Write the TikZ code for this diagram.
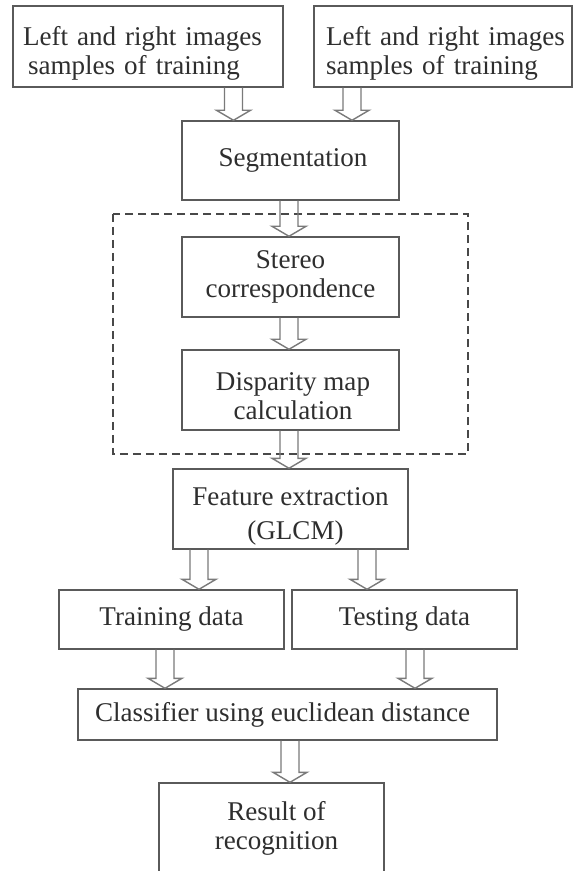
\documentclass[tikz,border=0pt]{standalone}
\usepackage{fontspec}
\setmainfont{Liberation Serif}
\usetikzlibrary{positioning, calc}
\definecolor{linegray}{HTML}{5A5A5A}
\definecolor{arrowgray}{HTML}{7A7A7A}
\definecolor{textgray}{HTML}{2E2E2E}

% hollow block arrow: x position, upper node, lower node
\newcommand{\blockarrow}[3]{%
  \draw[barrow] let \p1=(#1,0 |- #2.south), \p2=(#1,0 |- #3.north) in
    (\x1-0.18cm,\y1) -- (\x1-0.18cm,\y2+0.2cm) -- (\x1-0.34cm,\y2+0.2cm) -- (\x1,\y2)
    -- (\x1+0.34cm,\y2+0.2cm) -- (\x1+0.18cm,\y2+0.2cm) -- (\x1+0.18cm,\y1);
}

\begin{document}
\begin{tikzpicture}[
  box/.style={draw=linegray, line width=0.8pt, rectangle, inner sep=0pt, align=center, text=textgray, font=\fontsize{15.4}{16.6}\selectfont},
  barrow/.style={draw=arrowgray, line width=0.8pt, line join=miter},
  group/.style={draw=linegray!80!black, line width=1pt, dash pattern=on 0.17cm off 0.09cm}
]
\useasboundingbox (0,0) rectangle (11.5,-17.42);

%Inputs
\node (in1) at (2.96,-0.93) [box, minimum width=5.4cm, minimum height=1.62cm, text width=5cm, inner xsep=0.2cm, align=left] {\rule{0pt}{0.65cm}Left and right images\\\hspace*{0.1cm}samples of training};
\node (in2) at (8.86,-0.93) [box, minimum width=5.16cm, minimum height=1.62cm, text width=4.92cm, inner xsep=0.12cm, align=left] {\rule{0pt}{0.65cm}\hspace*{0.12cm}Left and right images\\\hspace*{0.12cm}samples of training};

%Segmentation
\node (seg) at (5.81,-3.21) [box, minimum width=4.34cm, minimum height=1.58cm] {\hspace*{0.1cm}Segmentation};

%Stereo part
\draw[group] (2.26,-4.28) rectangle (9.36,-9.08);
\node (stereo) at (5.81,-5.54) [box, minimum width=4.34cm, minimum height=1.6cm] {Stereo\\correspondence};
\node (disp) at (5.81,-7.8) [box, minimum width=4.34cm, minimum height=1.6cm] {\rule{0pt}{0.61cm}\hspace*{0.1cm}Disparity map\\\hspace*{0.1cm}calculation};

%Features
\node (feat) at (5.81,-10.18) [box, minimum width=4.7cm, minimum height=1.6cm] {\rule{0pt}{0.67cm}Feature extraction\\[0.1cm]\hspace*{0.2cm}(GLCM)};

%Data
\node (train) at (3.43,-12.39) [box, minimum width=4.5cm, minimum height=1.18cm] {Training data};
\node (test) at (8.09,-12.39) [box, minimum width=4.5cm, minimum height=1.18cm] {Testing data};

%Classifier
\node (cls) at (5.75,-14.29) [box, minimum width=8.38cm, minimum height=1.02cm] {Classifier using euclidean distance\hspace*{0.2cm}};
\node (res) at (5.43,-16.56) [box, minimum width=4.5cm, minimum height=1.8cm] {\hspace*{0.2cm}Result of\\\hspace*{0.2cm}recognition};

%Arrows
\blockarrow{4.67}{in1}{seg}
\blockarrow{7.04}{in2}{seg}
\blockarrow{5.78}{seg}{stereo}
\blockarrow{5.78}{stereo}{disp}
\blockarrow{5.78}{disp}{feat}
\blockarrow{3.98}{feat}{train}
\blockarrow{7.34}{feat}{test}
\blockarrow{3.3}{train}{cls}
\blockarrow{8.3}{test}{cls}
\blockarrow{5.8}{cls}{res}
\end{tikzpicture}
\end{document}
